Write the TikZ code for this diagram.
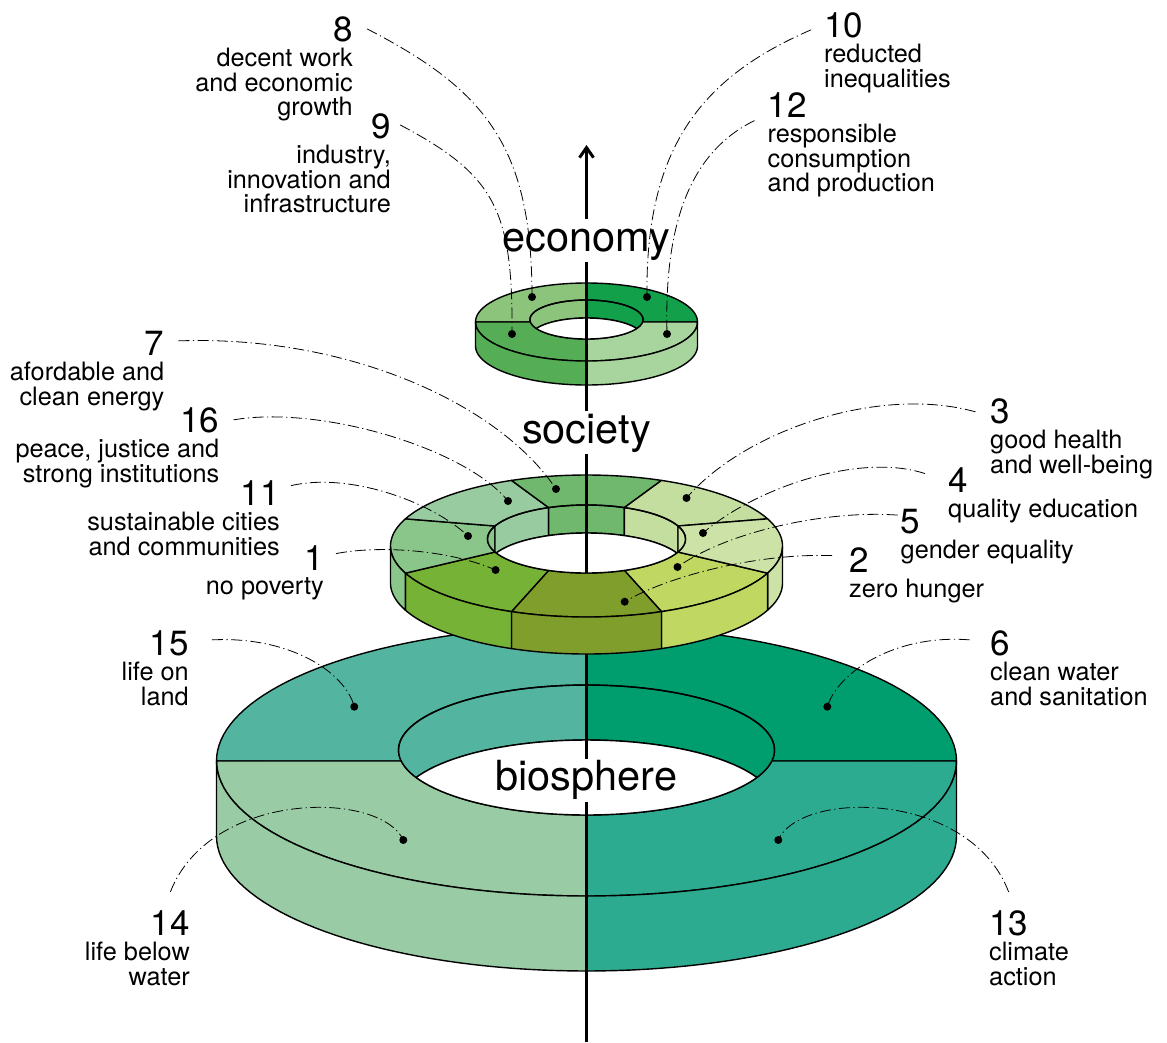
\documentclass[tikz,border=0pt]{standalone}
\usepackage{fontspec}
\setmainfont{TeX Gyre Heros}
\usetikzlibrary{calc,arrows.meta}

% biosphere goals
\definecolor{sdg15}{HTML}{53B5A0}
\definecolor{sdg6}{HTML}{009E6E}
\definecolor{sdg14}{HTML}{99CCA4}
\definecolor{sdg13}{HTML}{2CAB91}
% society goals
\definecolor{sdg7}{HTML}{70B86E}
\definecolor{sdg16}{HTML}{98CCA0}
\definecolor{sdg11}{HTML}{8AC68A}
\definecolor{sdg1}{HTML}{76B236}
\definecolor{sdg2}{HTML}{809E2C}
\definecolor{sdg5}{HTML}{C0D862}
\definecolor{sdg4}{HTML}{CDE2A6}
\definecolor{sdg3}{HTML}{C4DEA0}
% economy goals
\definecolor{sdg8}{HTML}{8DC47C}
\definecolor{sdg10}{HTML}{12A04A}
\definecolor{sdg9}{HTML}{55AD55}
\definecolor{sdg12}{HTML}{A8D59D}

% ring geometry: top-face centre y, outer radii, inner-rim centre y,
% inner radii, outer wall height, visible depth of the inner wall
\newcommand\setring[8]{\def\Rcy{#1}\def\Rrx{#2}\def\Rry{#3}\def\Icy{#4}\def\Irx{#5}\def\Iry{#6}\def\Rh{#7}\def\Ih{#8}}
% angles run clockwise on screen: 90 = front, 270 = back
% #1,#2 outer angles, #3,#4 inner angles, #5 colour
\newcommand\topsector[5]{\filldraw[ringedge,fill=#5]
  plot[domain=#1:#2] ({\Rcx+\Rrx*cos(\x)},{\Rcy+\Rry*sin(\x)}) --
  plot[domain=#4:#3] ({\Rcx+\Irx*cos(\x)},{\Icy+\Iry*sin(\x)}) -- cycle;}
\newcommand\topface[3]{\topsector{#1}{#2}{#1}{#2}{#3}}
\newcommand\outerwall[3]{\filldraw[ringedge,fill=#3]
  plot[domain=#1:#2] ({\Rcx+\Rrx*cos(\x)},{\Rcy+\Rry*sin(\x)}) --
  plot[domain=#2:#1] ({\Rcx+\Rrx*cos(\x)},{\Rcy+\Rh+\Rry*sin(\x)}) -- cycle;}
\newcommand\innerwall[3]{\filldraw[ringedge,fill=#3]
  plot[domain=#1:#2] ({\Rcx+\Irx*cos(\x)},{\Icy+\Iry*sin(\x)}) --
  plot[domain=#2:#1] ({\Rcx+\Irx*cos(\x)},{\Icy+\Ih+\Iry*sin(\x)}) -- cycle;}
\newcommand\innerrim{plot[domain=0:360,samples=121] ({\Rcx+\Irx*cos(\x)},{\Icy+\Iry*sin(\x)}) -- cycle}
\newcommand\holefloor{plot[domain=0:360,samples=121] ({\Rcx+\Irx*cos(\x)},{\Icy+\Ih+\Iry*sin(\x)}) -- cycle}
\newcommand\hole[1]{\begin{scope}\clip \innerrim; #1 \filldraw[ringedge,fill=white] \holefloor; \end{scope}\draw[ringedge] \innerrim;}

\begin{document}
\begin{tikzpicture}[x=1pt,y=-1pt,samples=41,
  ringedge/.style={draw=black,line width=1.4pt,line join=round},
  axisline/.style={line width=3pt},
  leader/.style={line width=0.8pt,dash pattern=on 11pt off 3.5pt on 1.2pt off 3.5pt},
  dotmark/.style={circle,fill=black,inner sep=0pt,minimum size=8pt},
  numlbl/.style={font=\fontsize{35}{35}\selectfont,inner sep=0pt},
  desclbl/.style={font=\fontsize{25.3}{24.5}\selectfont,inner sep=0pt},
  sphere/.style={font=\fontsize{41.5}{41.5}\selectfont,inner sep=2pt,text height=30pt,text depth=9pt}]

\useasboundingbox (0,0) rectangle (1167,1042);
\def\Rcx{586.5}

% ---- biosphere ring (side boundaries run level at y = 761) ----
\setring{761}{370}{135}{750}{188}{65}{75}{55}
\topsector{180}{270}{170.3}{270}{sdg15}
\topsector{270}{360}{270}{369.7}{sdg6}
\topsector{0}{90}{9.7}{90}{sdg13}
\topsector{90}{180}{90}{170.3}{sdg14}
\hole{\innerwall{180}{270}{sdg15}\innerwall{270}{360}{sdg6}}
\outerwall{0}{90}{sdg13}
\outerwall{90}{180}{sdg14}

% ---- society ring ----
\setring{546}{196}{71}{539}{99}{34}{37}{28}
\topface{22.5}{67.5}{sdg5}
\topface{67.5}{112.5}{sdg2}
\topface{112.5}{157.5}{sdg1}
\topface{157.5}{202.5}{sdg11}
\topface{202.5}{247.5}{sdg16}
\topface{247.5}{292.5}{sdg7}
\topface{292.5}{337.5}{sdg3}
\topface{337.5}{382.5}{sdg4}
\hole{\innerwall{180}{202.5}{sdg11}\innerwall{202.5}{247.5}{sdg16}%
  \innerwall{247.5}{292.5}{sdg7}\innerwall{292.5}{337.5}{sdg3}\innerwall{337.5}{360}{sdg4}}
\outerwall{0}{22.5}{sdg4}
\outerwall{22.5}{67.5}{sdg5}
\outerwall{67.5}{112.5}{sdg2}
\outerwall{112.5}{157.5}{sdg1}
\outerwall{157.5}{180}{sdg11}

% ---- economy ring (side boundaries run level at y = 322) ----
\setring{322}{111}{39}{319.5}{56.5}{19.5}{24}{18}
\topsector{180}{270}{172.6}{270}{sdg8}
\topsector{270}{360}{270}{367.4}{sdg10}
\topsector{0}{90}{7.4}{90}{sdg12}
\topsector{90}{180}{90}{172.6}{sdg9}
\hole{\innerwall{180}{270}{sdg8}\innerwall{270}{360}{sdg10}}
\outerwall{0}{90}{sdg12}
\outerwall{90}{180}{sdg9}

% ---- level names and the vertical axis ----
\node[sphere,anchor=base] (eco) at (586.5,251) {economy};
\node[sphere,anchor=base] (soc) at (586.5,443) {society};
\node[sphere,anchor=base] (bio) at (586.5,790.7) {biosphere};

\coordinate (axbot) at (586.5,1042);
\coordinate (soclow) at (586.5,654);
\coordinate (socrim) at (586.5,573);
\coordinate (tip) at (586.5,145);
\draw[axisline] (axbot) -- (bio.south);
\draw[axisline] (bio.north) -- (soclow);
\draw[axisline] (socrim) -- (soc.south);
\draw[axisline] (soc.north) -- (eco.south);
\draw[axisline,-{Straight Barb[length=10pt,width=14pt]}] (eco.north) -- (tip);

% ---- goal markers ----
\node[dotmark] (p8)  at (532,297) {};
\node[dotmark] (p10) at (647,297) {};
\node[dotmark] (p9)  at (512,334) {};
\node[dotmark] (p12) at (667,334) {};
\node[dotmark] (p7)  at (556,489) {};
\node[dotmark] (p16) at (508,501) {};
\node[dotmark] (p11) at (468,536) {};
\node[dotmark] (p1)  at (495.6,570) {};
\node[dotmark] (p3)  at (686.5,498) {};
\node[dotmark] (p4)  at (703,533) {};
\node[dotmark] (p5)  at (677.5,567) {};
\node[dotmark] (p2)  at (624.7,601.7) {};
\node[dotmark] (p15) at (354.3,706.7) {};
\node[dotmark] (p6)  at (827.3,706.7) {};
\node[dotmark] (p14) at (403.3,840) {};
\node[dotmark] (p13) at (778.3,840) {};

% ---- goal labels, left column ----
\node[numlbl,anchor=base east] (n8) at (353,41) {8};
\node[desclbl,align=right,anchor=north east] (t8) at ($(n8.base east)+(0,7)$) {decent work\\and economic\\growth};
\node[numlbl,anchor=base east] (n9) at (391,138) {9};
\node[desclbl,align=right,anchor=north east] (t9) at ($(n9.base east)+(0,7)$) {industry,\\innovation and\\infrastructure};
\node[numlbl,anchor=base east] (n7) at (164.5,355) {7};
\node[desclbl,align=right,anchor=north east] (t7) at ($(n7.base east)+(0,7)$) {afordable and\\clean energy};
\node[numlbl,anchor=base east] (n16) at (219.5,432) {16};
\node[desclbl,align=right,anchor=north east] (t16) at ($(n16.base east)+(0,7)$) {peace, justice and\\strong institutions};
\node[numlbl,anchor=base east] (n11) at (280,505) {11};
\node[desclbl,align=right,anchor=north east] (t11) at ($(n11.base east)+(0,7)$) {sustainable cities\\and communities};
\node[numlbl,anchor=base east] (n1) at (324,570) {1};
\node[desclbl,align=right,anchor=north east] (t1) at ($(n1.base east)+(0,7)$) {no poverty};
\node[numlbl,anchor=base east] (n15) at (189,655) {15};
\node[desclbl,align=right,anchor=north east] (t15) at ($(n15.base east)+(0,7)$) {life on\\land};
\node[numlbl,anchor=base east] (n14) at (190,935) {14};
\node[desclbl,align=right,anchor=north east] (t14) at ($(n14.base east)+(0,7)$) {life below\\water};

% ---- goal labels, right column ----
\node[numlbl,anchor=base west] (n10) at (824,37) {10};
\node[desclbl,align=left,anchor=north west] (t10) at ($(n10.base west)+(0,7)$) {reducted\\inequalities};
\node[numlbl,anchor=base west] (n12) at (767.5,117) {12};
\node[desclbl,align=left,anchor=north west] (t12) at ($(n12.base west)+(0,7)$) {responsible\\consumption\\and production};
\node[numlbl,anchor=base west] (n3) at (990,423) {3};
\node[desclbl,align=left,anchor=north west] (t3) at ($(n3.base west)+(0,7)$) {good health\\and well-being};
\node[numlbl,anchor=base west] (n4) at (948,492) {4};
\node[desclbl,align=left,anchor=north west] (t4) at ($(n4.base west)+(0,7)$) {quality education};
\node[numlbl,anchor=base west] (n5) at (900.5,533) {5};
\node[desclbl,align=left,anchor=north west] (t5) at ($(n5.base west)+(0,7)$) {gender equality};
\node[numlbl,anchor=base west] (n2) at (849,572) {2};
\node[desclbl,align=left,anchor=north west] (t2) at ($(n2.base west)+(0,7)$) {zero hunger};
\node[numlbl,anchor=base west] (n6) at (990,655) {6};
\node[desclbl,align=left,anchor=north west] (t6) at ($(n6.base west)+(0,7)$) {clean water\\and sanitation};
\node[numlbl,anchor=base west] (n13) at (989,935) {13};
\node[desclbl,align=left,anchor=north west] (t13) at ($(n13.base west)+(0,7)$) {climate\\action};

% ---- leaders from labels to markers ----
\draw[leader] ($(n8.east)+(14,0)$) .. controls (486,90) and (532,147) .. (p8.center);
\draw[leader] ($(n9.east)+(9,-1)$) .. controls (495,175) and (513,210) .. (p9.center);
\draw[leader] ($(n10.west)+(-13,5)$) .. controls (702,77) and (645,147) .. (p10.center);
\draw[leader] ($(n12.west)+(-13,16)$) .. controls (690,152) and (664,224) .. (p12.center);
\draw[leader] ($(n7.east)+(14,-2)$) .. controls (350,335) and (500,405) .. (p7.center);
\draw[leader] ($(n16.east)+(14,0)$) .. controls (320,405) and (465,448) .. (p16.center);
\draw[leader] ($(n11.east)+(11,-7)$) .. controls (350,472) and (432,502) .. (p11.center);
\draw[leader] ($(n1.east)+(12,-4)$) .. controls (380,545) and (450,550) .. (p1.center);
\draw[leader] ($(n3.west)+(-14.5,1)$) .. controls (880,385) and (745,430) .. (p3.center);
\draw[leader] ($(n4.west)+(-23,-6)$) .. controls (860,452) and (755,488) .. (p4.center);
\draw[leader] ($(n5.west)+(-3,-6)$) .. controls (830,510) and (730,530) .. (p5.center);
\draw[leader] ($(n2.west)+(-17,-4)$) .. controls (760,553) and (670,575) .. (p2.center);
\draw[leader] ($(n15.east)+(23,-3)$) .. controls (290,636) and (345,672) .. (p15.center);
\draw[leader] ($(n6.west)+(-20.5,-3)$) .. controls (895,634) and (838,672) .. (p6.center);
\draw[leader] ($(n14.north)+(0,-18)$) .. controls (210,790) and (380,790) .. (p14.center);
\draw[leader] ($(n13.north)+(0,-18)$) .. controls (970,790) and (800,790) .. (p13.center);

\end{tikzpicture}
\end{document}
